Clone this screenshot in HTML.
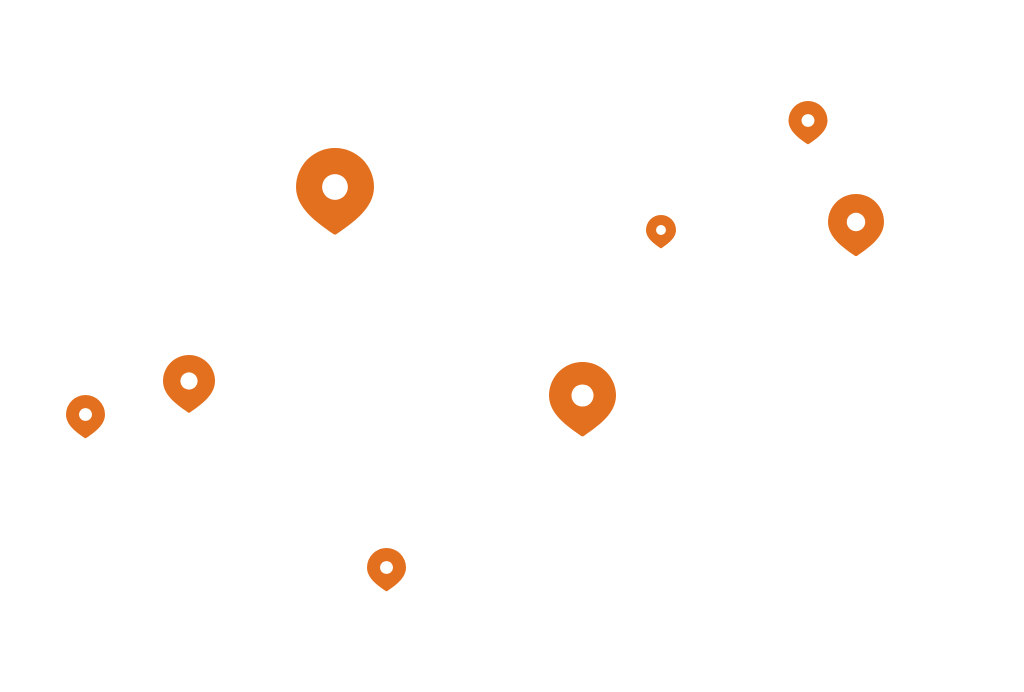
<!DOCTYPE html>
<html><head><meta charset="utf-8"><style>
html,body{margin:0;padding:0;background:#fff;}
svg{display:block}
</style></head><body>
<svg width="1024" height="692" viewBox="0 0 1024 692" xmlns="http://www.w3.org/2000/svg">
<defs>
<g id="pin">
<path d="M 0.05,1.2 Q 0,1.24 -0.05,1.2 C -0.45,0.92 -1,0.55 -1,0 A1,1 0 0 1 1,0 C 1,0.55 0.45,0.92 0.05,1.2 Z" fill="#E3701F"/>
<circle cx="0" cy="0" r="0.33" fill="#fff"/>
</g>
</defs>
<use href="#pin" transform="translate(335,187) scale(39)"/>
<use href="#pin" transform="translate(808,120.5) scale(19.5)"/>
<use href="#pin" transform="translate(661,230) scale(15)"/>
<use href="#pin" transform="translate(856,222) scale(28)"/>
<use href="#pin" transform="translate(189,381) scale(26)"/>
<use href="#pin" transform="translate(85.5,414.5) scale(19.5)"/>
<use href="#pin" transform="translate(582.5,395.5) scale(33.5)"/>
<use href="#pin" transform="translate(386.5,567.5) scale(19.5)"/>
</svg>
</body></html>
